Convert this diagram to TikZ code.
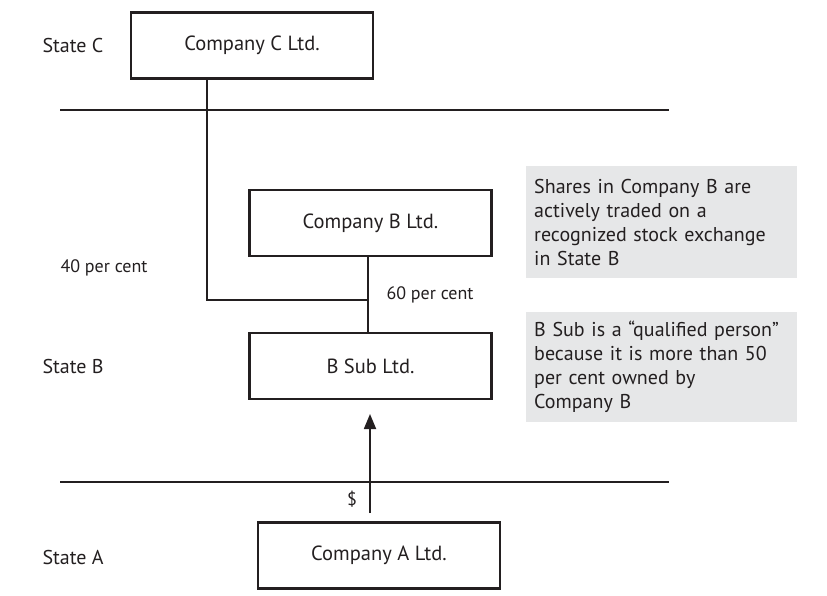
\documentclass[tikz,border=0pt]{standalone}
\usepackage{fontspec}
\setmainfont{PT Sans}
\usetikzlibrary{arrows.meta}
\definecolor{notegray}{RGB}{230,231,232}
\definecolor{ink}{RGB}{35,31,32}
\begin{document}
\begin{tikzpicture}[x=1pt,y=-1pt,
  every node/.style={font=\fontsize{20}{24}\selectfont, text=ink},
  company/.style={draw=ink, line width=2.4pt, minimum width=242pt, minimum height=66pt, inner sep=0pt, font=\fontsize{20.5}{24}\selectfont},
  note/.style={fill=notegray, minimum width=271pt, text width=271pt, align=left, inner sep=0pt, anchor=north west},
  statelbl/.style={anchor=west},
  pct/.style={anchor=west, font=\fontsize{18}{22}\selectfont},
  thin/.style={draw=ink, line width=1.1pt}]
\useasboundingbox (0,0) rectangle (827,596);
% state separators
\coordinate (l1a) at (60,110);
\coordinate (l1b) at (669,110);
\coordinate (l2a) at (60,482);
\coordinate (l2b) at (669,482);
\draw[thin] (l1a) -- (l1b);
\draw[thin] (l2a) -- (l2b);
% company boxes
\node[company] (C) at (252,45.5) {Company C Ltd.};
\node[company] (B) at (370.5,223) {Company B Ltd.};
\node[company] (S) at (370.5,366) {B Sub Ltd.};
\node[company] (A) at (379,555.5) {Company A Ltd.};
% state labels
\node[statelbl] (sc) at (39,46) {State C};
\node[statelbl] (sb) at (39,366) {State B};
\node[statelbl] (sa) at (39,557) {State A};
% ownership lines
\coordinate (j) at (207,300);
\coordinate (k) at (368,300);
\draw[thin] (C.south -| j) -- (j) -- (k);
\draw[thin] (B.south -| k) -- (S.north -| k);
\node[pct] (p40) at (57,268) {40 per cent};
\node[pct] (p60) at (383,295) {60 per cent};
% payment arrow
\coordinate (as) at (370,513);
\coordinate (ae) at (370,414);
\draw[draw=ink, line width=1.8pt, -{Triangle[length=15pt,width=12pt]}] (as) -- (ae);
\node[font=\fontsize{18}{22}\selectfont] (dol) at (352,499) {\$};
% notes
\node[note, minimum height=112pt] (n1) at (526,166) {\hspace*{8pt}\parbox{262pt}{Shares in Company B are\\actively traded on a\\recognized stock exchange\\in State B}};
\node[note, minimum height=110pt] (n2) at (526,312) {\hspace*{8pt}\parbox{262pt}{B Sub is a “qualified person”\\because it is more than 50\\per cent owned by\\Company B}};
\end{tikzpicture}
\end{document}
